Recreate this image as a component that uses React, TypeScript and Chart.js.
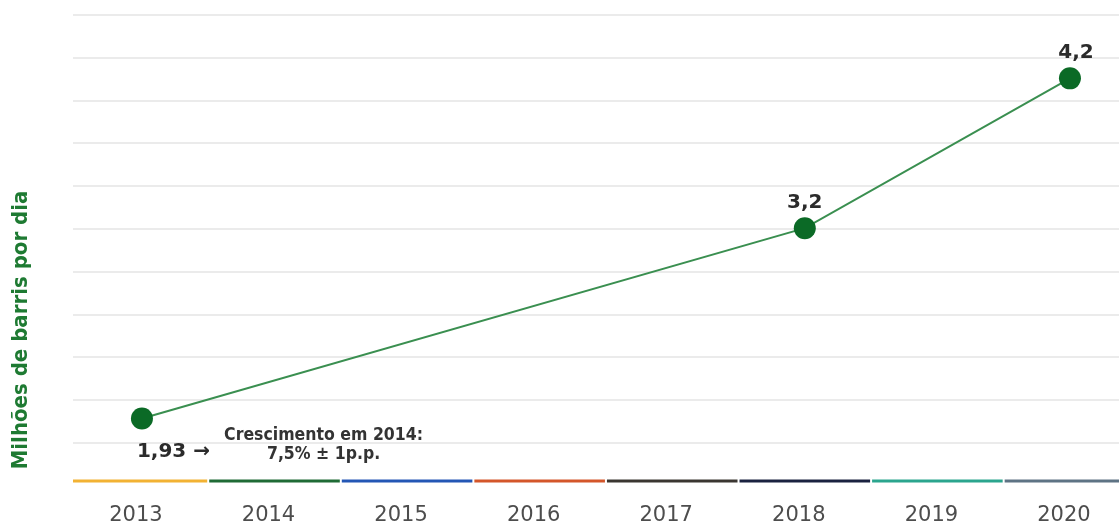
import React, { useEffect, useRef } from "react";
import { Chart, registerables } from "chart.js";

Chart.register(...registerables);

// ---- data ----
const YEARS = [2013, 2014, 2015, 2016, 2017, 2018, 2019, 2020];
const YEAR_COLORS = ["#F2B233", "#1F6B35", "#2457B5", "#D4562A", "#3A3631", "#1A2240", "#2BA58E", "#5E7384"];
const POINT_YEARS = [2013, 2018, 2020];
const PRODUCTION = [1.93, 3.2, 4.2];
const POINT_LABELS = ["1,93 \u2192", "3,2", "4,2"];
const Y_TITLE = "Milhões de barris por dia";
const NOTE_LINES = ["Crescimento em 2014:", "7,5% ± 1p.p."];
const NOTE_YEAR = 2014.37;

// ---- scale bounds ----
const Y_MIN = 1.766;
const Y_MAX = 4.623;
const X_MIN = 2012.48;
const X_MAX = 2020.37;

const W = 1119;
const H = 527;

const decorPlugin = {
  id: "decor",
  afterDraw(chart: any) {
    const { ctx, chartArea, scales } = chart;
    const xs = scales.x;
    const axisY = chartArea.bottom + 38;
    ctx.save();
    // coloured year segments along the axis
    ctx.lineWidth = 3;
    ctx.lineCap = "butt";
    YEARS.forEach((yr, i) => {
      const x0 = i === 0 ? chartArea.left : xs.getPixelForValue(yr - 0.5) + 1;
      const x1 = Math.min(xs.getPixelForValue(yr + 0.5) - 1, chartArea.right);
      ctx.strokeStyle = YEAR_COLORS[i];
      ctx.beginPath();
      ctx.moveTo(x0, axisY);
      ctx.lineTo(x1, axisY);
      ctx.stroke();
    });

    // y title
    ctx.save();
    ctx.translate(chartArea.left - 52, axisY - 151);
    ctx.rotate(-Math.PI / 2);
    ctx.fillStyle = "#1E7A32";
    ctx.font = "bold 22px 'DejaVu Sans Condensed', 'DejaVu Sans'";
    ctx.textAlign = "center";
    ctx.textBaseline = "middle";
    ctx.fillText(Y_TITLE, 0, 0);
    ctx.restore();

    // point labels
    const meta = chart.getDatasetMeta(0);
    ctx.fillStyle = "#2b2b2b";
    ctx.font = "bold 20px 'DejaVu Sans'";
    ctx.textBaseline = "alphabetic";
    meta.data.forEach((pt: any, i: number) => {
      if (i === 0) {
        ctx.textAlign = "left";
        ctx.fillText(POINT_LABELS[i], pt.x - 5, pt.y + 39);
      } else {
        ctx.textAlign = "center";
        ctx.fillText(POINT_LABELS[i], pt.x + (i === meta.data.length - 1 ? 6 : 0), pt.y - 20);
      }
    });

    // note
    ctx.font = "bold 17.5px 'DejaVu Sans Condensed', 'DejaVu Sans'";
    ctx.textAlign = "center";
    ctx.fillStyle = "#333333";
    const nx = xs.getPixelForValue(NOTE_YEAR);
    const p0 = meta.data[0];
    ctx.fillText(NOTE_LINES[0], nx, p0.y + 22);
    ctx.fillText(NOTE_LINES[1], nx, p0.y + 41);
    ctx.restore();
  },
};

export default function App() {
  const ref = useRef<HTMLCanvasElement | null>(null);
  useEffect(() => {
    if (!ref.current) return;
    const chart = new Chart(ref.current, {
      type: "line",
      data: {
        datasets: [
          {
            data: POINT_YEARS.map((x, i) => ({ x, y: PRODUCTION[i] })),
            borderColor: "#3A8F50",
            borderWidth: 2,
            pointRadius: 11,
            pointHoverRadius: 11,
            pointBackgroundColor: "#0B6A26",
            pointBorderColor: "#0B6A26",
            pointBorderWidth: 0,
            tension: 0,
            clip: false as any,
          },
        ],
      },
      options: {
        animation: false,
        responsive: false,
        devicePixelRatio: 1,
        layout: { autoPadding: false, padding: { top: 15, left: 0, right: 0, bottom: 0 } },
        plugins: { legend: { display: false }, tooltip: { enabled: false } },
        scales: {
          x: {
            type: "linear",
            min: X_MIN,
            max: X_MAX,
            grid: { display: false, drawTicks: false },
            border: { display: false },
            ticks: {
              stepSize: 1,
              includeBounds: false,
              padding: 60,
              labelOffset: -6,
              color: "#4d4d4d",
              font: { family: "'DejaVu Sans'", size: 21 },
              callback: (v: any) => String(v),
              maxRotation: 0,
              autoSkip: false,
            },
            afterFit: (s: any) => {
              s.height = 84;
              s.paddingLeft = 0;
              s.paddingRight = 0;
            },
          },
          y: {
            type: "linear",
            min: Y_MIN,
            max: Y_MAX,
            grid: { color: "#ebebeb", lineWidth: 2, drawTicks: false },
            border: { display: false },
            ticks: { display: false, count: 11 },
            afterFit: (s: any) => {
              s.width = 73;
              s.paddingTop = 0;
              s.paddingBottom = 0;
            },
          },
        },
      },
      plugins: [decorPlugin],
    });
    return () => chart.destroy();
  }, []);
  return (
    <div style={{ position: "fixed", left: 0, top: 0, width: W, height: H, background: "#fff", overflow: "hidden" }}>
      <canvas ref={ref} width={W} height={H} style={{ width: W, height: H, display: "block" }} />
    </div>
  );
}
